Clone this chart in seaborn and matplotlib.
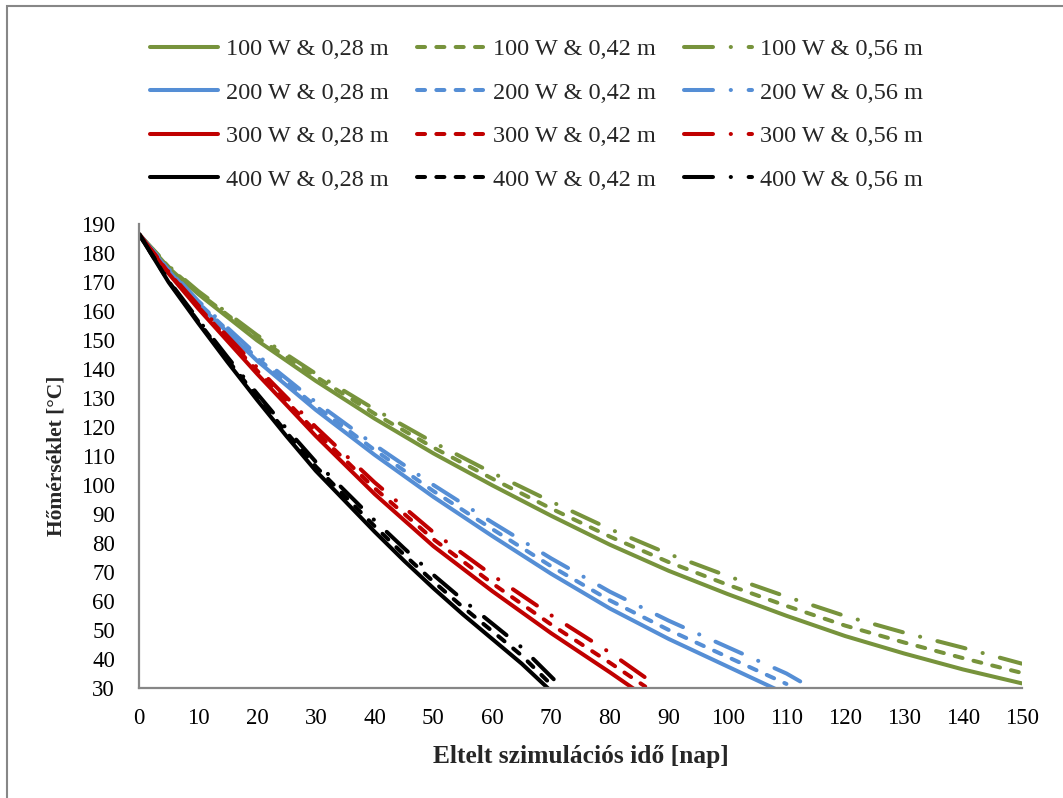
import matplotlib
matplotlib.use("Agg")
import matplotlib.pyplot as plt
from matplotlib.lines import Line2D
from matplotlib.patches import Rectangle
import pandas as pd
import seaborn as sns

# Simulated storage temperature [°C] against elapsed time [days]
days_g = [0, 5, 10, 20, 30, 40, 50, 60, 70, 80, 90, 100, 110, 120, 130, 140, 150]
t_100_028 = [186.5, 175, 166, 150, 136, 123, 111, 100, 89.5, 79.5, 70.5, 62.5, 55, 48, 42, 36.5, 31.7]
t_100_042 = [186.5, 175.3, 166.5, 151, 137.5, 124.7, 113, 102.3, 92, 82.3, 73.5, 65.7, 58.4, 51.6, 45.8, 40.4, 35.3]
t_100_056 = [186.5, 175.6, 167, 151.8, 138.5, 126.2, 114.8, 104.3, 94.4, 84.9, 76.3, 68.7, 61.6, 54.9, 49.2, 44, 38.5]

days_b = [0, 5, 10, 20, 30, 40, 50, 60, 70, 80, 90, 100, 110]
days_b056 = [0, 5, 10, 20, 30, 40, 50, 60, 70, 80, 90, 100, 110, 113]
t_200_028 = [186.5, 174, 162.5, 143, 126, 110.5, 96, 82.5, 69.5, 57.5, 47, 37.5, 28]
t_200_042 = [186.5, 174.3, 163, 143.9, 127.3, 112.2, 98, 84.9, 72.1, 60.3, 50.1, 40.8, 31.5]
t_200_056 = [186.5, 174.6, 163.6, 145, 128.7, 113.9, 100.1, 87.2, 74.8, 63.3, 53.3, 44.2, 35.1, 31.6]

days_r028 = [0, 5, 10, 20, 30, 40, 50, 60, 70, 80, 85]
days_r042 = [0, 5, 10, 20, 30, 40, 50, 60, 70, 80, 86]
days_r056 = [0, 5, 10, 20, 30, 40, 50, 60, 70, 80, 87]
t_300_028 = [186.5, 173, 161, 138.5, 117, 97, 79, 63.5, 49, 35.5, 28.5]
t_300_042 = [186.5, 173.3, 161.6, 139.6, 118.5, 99, 81.4, 66.2, 52, 38.8, 30.6]
t_300_056 = [186.5, 173.6, 162.1, 140.7, 120.1, 101, 83.8, 69, 55.2, 42.3, 32.3]

days_k028 = [0, 5, 10, 15, 20, 25, 30, 35, 40, 45, 50, 55, 60, 65, 70]
days_k042 = [0, 5, 10, 15, 20, 25, 30, 35, 40, 45, 50, 55, 60, 65, 69.5]
days_k056 = [0, 5, 10, 15, 20, 25, 30, 35, 40, 45, 50, 55, 60, 65, 71]
t_400_028 = [186.5, 170, 156, 142.5, 129.5, 117, 105, 94.5, 84, 74, 64.5, 55.5, 47, 38.5, 29]
t_400_042 = [186.5, 170.3, 156.6, 143.3, 130.6, 118.3, 106.5, 96.2, 85.9, 76.1, 66.8, 58, 49.7, 41.3, 32.3]
t_400_056 = [186.5, 170.6, 157.2, 144.2, 131.7, 119.6, 108.1, 98, 87.9, 78.3, 69.1, 60.5, 52.3, 44.1, 32]

powers = ["100 W", "200 W", "300 W", "400 W"]
depths = ["0,28 m", "0,42 m", "0,56 m"]
colors = ["#77933C", "#558ED5", "#C00000", "#000000"]

series = [
    ("100 W", "0,28 m", days_g, t_100_028),
    ("100 W", "0,42 m", days_g, t_100_042),
    ("100 W", "0,56 m", days_g, t_100_056),
    ("200 W", "0,28 m", days_b, t_200_028),
    ("200 W", "0,42 m", days_b, t_200_042),
    ("200 W", "0,56 m", days_b056, t_200_056),
    ("300 W", "0,28 m", days_r028, t_300_028),
    ("300 W", "0,42 m", days_r042, t_300_042),
    ("300 W", "0,56 m", days_r056, t_300_056),
    ("400 W", "0,28 m", days_k028, t_400_028),
    ("400 W", "0,42 m", days_k042, t_400_042),
    ("400 W", "0,56 m", days_k056, t_400_056),
]

df = pd.concat(
    [pd.DataFrame({"nap": xs, "T": ys, "teljesitmeny": p, "tavolsag": d})
     for p, d, xs, ys in series],
    ignore_index=True,
)

sns.set_theme(style="white")
plt.rcParams["font.family"] = ["Liberation Serif", "DejaVu Serif"]

LW = 2.9
dash_styles = {"0,28 m": "", "0,42 m": (2.0, 2.8), "0,56 m": (7.2, 4.4, 0.05, 4.4)}
palette = dict(zip(powers, colors))

fig = plt.figure(figsize=(10.63, 7.98), dpi=100)
ax = fig.add_axes([0.1310, 0.1375, 0.8302, 0.5814])

sns.lineplot(data=df, x="nap", y="T", hue="teljesitmeny", style="tavolsag",
             palette=palette, dashes=dash_styles, hue_order=powers, style_order=depths,
             estimator=None, sort=False, linewidth=LW, legend=False, ax=ax)
for ln in ax.get_lines():
    ln.set_dash_capstyle("round")
    ln.set_solid_capstyle("round")

ax.set_xlim(0, 150)
ax.set_ylim(30, 190)
ax.set_xticks(range(0, 151, 10))
ax.set_yticks(range(30, 191, 10))
for side in ("top", "right"):
    ax.spines[side].set_visible(False)
for side in ("left", "bottom"):
    ax.spines[side].set_color("#868686")
    ax.spines[side].set_linewidth(1.6)
ax.tick_params(axis="both", direction="out", length=5, width=1.2, color="#868686",
               labelsize=16.5, labelcolor="black")
ax.tick_params(axis="x", pad=9.5)
ax.tick_params(axis="y", pad=12.5)
ax.grid(False)

ax.set_xlabel("Eltelt szimulációs idő [nap]", fontsize=18.4, fontweight="bold", labelpad=11)
ax.set_ylabel("Hőmérséklet [°C]", fontsize=15.5, fontweight="bold", labelpad=10)

# Legend: 4 rows (power) x 3 columns (distance); matplotlib fills column-wise
handles, labels = [], []
for d in depths:
    for p in powers:
        h = Line2D([], [], color=palette[p], lw=LW,
                   dash_capstyle="round", solid_capstyle="round")
        if dash_styles[d]:
            h.set_dashes(dash_styles[d])
        handles.append(h)
        labels.append(f"{p} & {d}")

fig.legend(handles, labels, ncol=3, loc="center", bbox_to_anchor=(0.505, 0.8565),
           frameon=False, fontsize=17.5, handlelength=2.8, handletextpad=0.33,
           columnspacing=1.15, labelspacing=0.88, borderpad=0)

# Outer chart frame (top and left edges visible)
top = 1 - 6 / 798
fig.patches.append(Rectangle((7 / 1063, -0.2), 1.2, top + 0.2,
                             transform=fig.transFigure, fill=False,
                             edgecolor="#878787", linewidth=1.5))

fig.savefig("out.png", dpi=100, facecolor="white")
